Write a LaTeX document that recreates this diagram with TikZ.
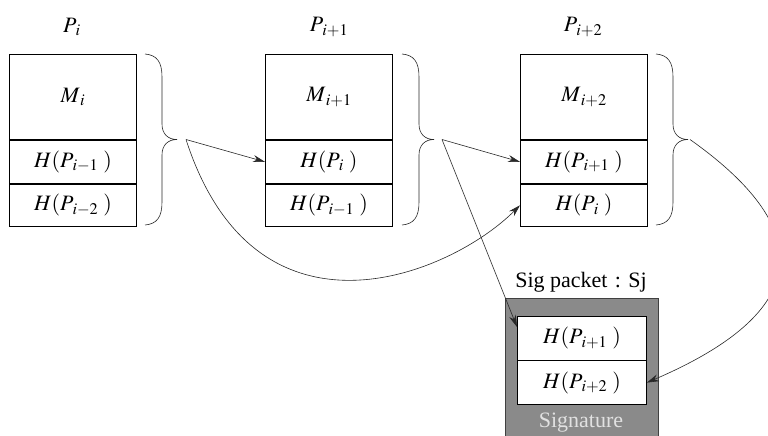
\documentclass[tikz,border=0pt]{standalone}
\usepackage{mathptmx}
\usepackage[no-math]{fontspec}
\setmainfont{Liberation Serif}
\usetikzlibrary{arrows.meta,calc}

\definecolor{sigfill}{RGB}{138,138,138}
\definecolor{sigtext}{RGB}{225,225,225}
\definecolor{wire}{RGB}{40,40,40}

\newcommand{\lbl}{\fontsize{22}{26}\selectfont}

\tikzset{
  cell/.style={draw, line width=0.9pt, minimum width=127pt, inner sep=0pt, font=\lbl},
  mrow/.style={cell, minimum height=85pt, anchor=north west},
  hrow/.style={cell, minimum height=43pt, anchor=north},
  srow/.style={cell, fill=white, minimum width=129pt, minimum height=43.5pt},
  title/.style={font=\lbl, inner sep=0pt},
  link/.style={draw=wire, line width=0.6pt, -{Stealth[length=12pt,width=7pt]}},
  % right curly brace, 171pt tall, tip pointing right
  rbrace/.pic={
    \draw[wire, line width=0.6pt]
      (0,0) .. controls (12,1) and (17,8) .. (17,23) -- (17,70)
      .. controls (17,80) and (23,85.5) .. (32,85.5)
      .. controls (23,85.5) and (17,91) .. (17,101) -- (17,148)
      .. controls (17,163) and (12,170) .. (0,171);
    \coordinate (-tip) at (32,85.5);
  }
}

\begin{document}
\begin{tikzpicture}[x=1pt,y=-1pt]
\useasboundingbox (0,0) rectangle (768,436);
\clip (0,0) rectangle (768,436);

% packet P_i
\node[title] (t1) at (72,27) {$P_{\,i}$};
\node[mrow] (m1) at (9,54) {$M_{\,i}$};
\node[hrow] (h1a) at (m1.south) {$H(P_{\,i-1}\;)$};
\node[hrow, minimum height=42pt] (h1b) at (h1a.south) {$H(P_{\,i-2}\;)$};
\pic (b1) at (145,54) {rbrace};

% packet P_{i+1}
\node[title] (t2) at (329,27) {$P_{\,i+1}$};
\node[mrow] (m2) at (265,54) {$M_{\,i+1}$};
\node[hrow] (h2a) at (m2.south) {$H(P_{\,i}\;)$};
\node[hrow, minimum height=42pt] (h2b) at (h2a.south) {$H(P_{\,i-1}\;)$};
\pic (b2) at (402,54) {rbrace};

% packet P_{i+2}
\node[title] (t3) at (583,27) {$P_{\,i+2}$};
\node[mrow] (m3) at (520,54) {$M_{\,i+2}$};
\node[hrow] (h3a) at (m3.south) {$H(P_{\,i+1}\;)$};
\node[hrow, minimum height=42pt] (h3b) at (h3a.south) {$H(P_{\,i}\;)$};
\pic (b3) at (656,54) {rbrace};

% signature packet
\node[title] (st) at (581,282) {Sig packet\,\,:\,\,Sj};
\fill[sigfill] (505,298) rectangle (658,445);
\draw[black!75, line width=0.9pt] (505,445) -- (505,298) -- (658,298) -- (658,445);
\node[srow, anchor=north west] (s1) at (517,316) {$H(P_{\,i+1}\;)$};
\node[srow, anchor=north] (s2) at (s1.south) {$H(P_{\,i+2}\;)$};
\node[title, text=sigtext] (sg) at (581,423) {Signature};

% connectors
\coordinate (a1) at ($(b1-tip)+(9,0)$);
\coordinate (a2) at ($(b2-tip)+(8,0)$);
\coordinate (a3) at ($(b3-tip)+(2,0)$);

\draw[link] (a1) -- (h2a.west);
\draw[link] (a1) .. controls +(70,216) and +(-70,70) .. (h3b.west);
\draw[link] (a2) -- (h3a.west);
\draw[link] (a2) -- ($(s1.north west)+(0,11)$);
\draw[link] (a3) .. controls +(120,85) and +(175,-75) .. (s2.east);
\end{tikzpicture}
\end{document}
